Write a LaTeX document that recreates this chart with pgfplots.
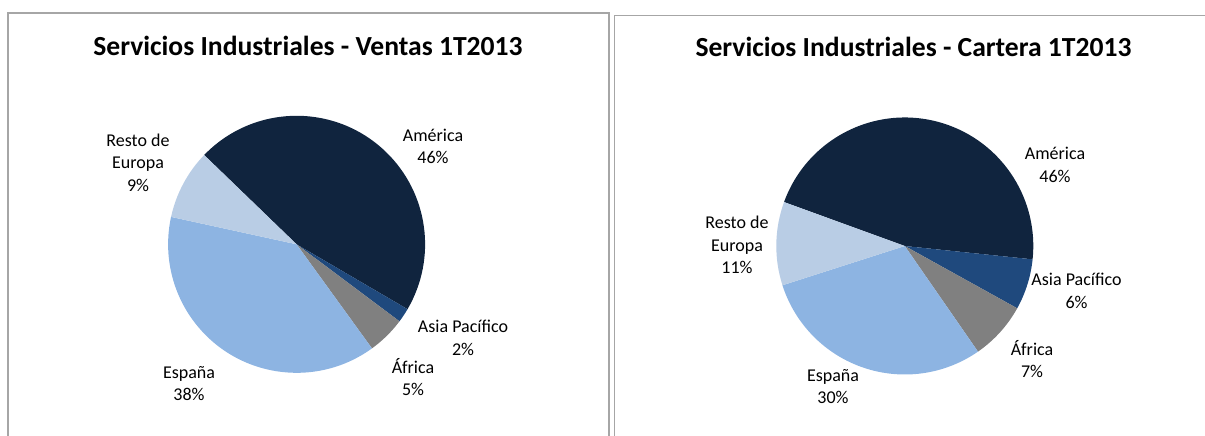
\documentclass[border=0pt]{standalone}
\usepackage{pgfplots}
\pgfplotsset{compat=1.18}
\usepackage{pgfplotstable}
\usepackage{fontspec}
\setmainfont{Carlito}
\definecolor{cAm}{HTML}{10243E}
\definecolor{cAs}{HTML}{1F497D}
\definecolor{cAf}{HTML}{808080}
\definecolor{cEs}{HTML}{8DB4E2}
\definecolor{cRe}{HTML}{B9CDE5}
\definecolor{frm}{HTML}{A6A6A6}
\tikzset{
  lab/.style={font=\fontsize{18}{22.5}\selectfont, align=center, inner sep=0pt, text=black},
  ttl/.style={font=\fontsize{27.6}{32}\selectfont\bfseries, inner sep=0pt, text=black}}

% shares (%) in clockwise order, starting with America
\pgfplotstableread{
region value
America 46.2
Asia 1.8
Africa 4.8
Espana 38.4
Resto 8.8
}\ventas
\pgfplotstableread{
region value
America 46.1
Asia 6.4
Africa 7.3
Espana 29.7
Resto 10.5
}\cartera

\newcommand\slicecol[1]{\ifcase#1 cAm\or cAs\or cAf\or cEs\or cRe\fi}
\newcommand\pieangles[3]{%
  \xdef\curang{#3}%
  \foreach \i in {0,...,4}{%
    \pgfplotstablegetelem{\i}{value}\of{#1}%
    \pgfmathsetmacro\nextang{\curang-3.6*\pgfplotsretval}%
    \expandafter\xdef\csname #2s\i\endcsname{\curang}%
    \expandafter\xdef\csname #2e\i\endcsname{\nextang}%
    \xdef\curang{\nextang}%
  }%
}
\newcommand\pieslice[5]{%
  \edef\temp{\noexpand\fill[\slicecol{#4}] (axis cs:#1,#2) -- ++(\csname #3s#4\endcsname:#5)
    arc[start angle=\csname #3s#4\endcsname, end angle=\csname #3e#4\endcsname, radius=#5] -- cycle;}%
  \temp}

\begin{document}
\begin{tikzpicture}
\pieangles{\ventas}{V}{136}
\pieangles{\cartera}{C}{160}
\begin{axis}[at={(0,0)}, anchor=south west,
  x=1pt, y=1pt, xmin=0, xmax=1205, ymin=0, ymax=436, y dir=reverse,
  hide axis, clip=false, scale only axis]
\draw[frm, line width=1.5pt] (axis cs:8,13) rectangle (axis cs:609,470);
\draw[frm, line width=1.5pt] (axis cs:614.5,15.3) rectangle (axis cs:1230,470);
\pgfplotsinvokeforeach{0,...,4}{\pieslice{296.6}{244.3}{V}{#1}{128.5pt}}
\pgfplotsinvokeforeach{0,...,4}{\pieslice{904.8}{246}{C}{#1}{128.5pt}}
\node[ttl] at (axis cs:308,45.7) {Servicios Industriales - Ventas 1T2013};
\node[ttl] at (axis cs:913.5,46.7) {Servicios Industriales - Cartera 1T2013};
\node[lab] at (axis cs:433,146.5) {América\\46\%};
\node[lab] at (axis cs:138,162.7) {Resto de\\Europa\\9\%};
\node[lab] at (axis cs:463,338) {Asia Pacífico\\2\%};
\node[lab] at (axis cs:413,377) {África\\5\%};
\node[lab] at (axis cs:189,383.7) {España\\38\%};
\node[lab] at (axis cs:1055,165) {América\\46\%};
\node[lab] at (axis cs:737,245) {Resto de\\Europa\\11\%};
\node[lab] at (axis cs:1076.5,291) {Asia Pacífico\\6\%};
\node[lab] at (axis cs:1032,359) {África\\7\%};
\node[lab] at (axis cs:833,386.5) {España\\30\%};
\end{axis}
\pgfresetboundingbox
\useasboundingbox (0,0) rectangle (1205pt,436pt);
\end{tikzpicture}
\end{document}
